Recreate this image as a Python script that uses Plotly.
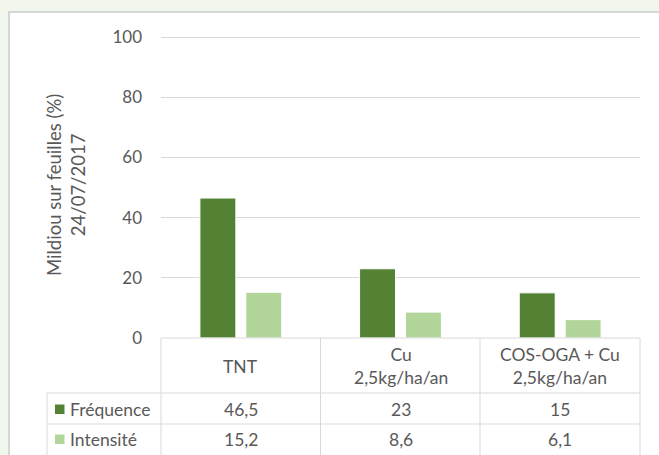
import plotly.graph_objects as go

categories = ["TNT", "Cu<br>2,5kg/ha/an", "COS-OGA + Cu<br>2,5kg/ha/an"]
series_names = ["Fréquence", "Intensité"]
frequence = [46.5, 23, 15]
intensite = [15.2, 8.6, 6.1]
y_ticks = [0, 20, 40, 60, 80, 100]
y_title = "Mildiou sur feuilles (%)<br>24/07/2017"

W, H = 659, 455
DARK = "#548235"
LIGHT = "#b2d69a"
TXT = "#595959"
GRID = "#d9d9d9"
FONT = "Lato, 'Open Sans', sans-serif"
FS = 17.5


def px(x):
    return x / W


def py(y):
    return 1 - y / H


fig = go.Figure()
for name, vals, col in [(series_names[0], frequence, DARK), (series_names[1], intensite, LIGHT)]:
    fig.add_trace(go.Bar(x=categories, y=vals, name=name,
                         marker=dict(color=col, line=dict(color="white", width=1)),
                         showlegend=False, hoverinfo="skip"))

# plot area in pixels (100 at y=37, 0 at y=338; range topped slightly above 100 so its gridline shows)
X0, X1 = 161, 640
Y_BOT = 338
YMAX = 101
Y_TOP = Y_BOT - (Y_BOT - 37) * YMAX / 100

shapes = []
# white panel
shapes.append(dict(type="rect", xref="paper", yref="paper", x0=px(9), x1=1.05, y0=-0.05, y1=py(12),
                   fillcolor="white", line=dict(color="#d6d6d6", width=2), layer="below"))
# table lines
line = dict(color=GRID, width=1)
shapes.append(dict(type="line", xref="paper", yref="paper", x0=px(X0), x1=px(X1), y0=py(Y_BOT), y1=py(Y_BOT), line=line))
for yy in [393, 424]:
    shapes.append(dict(type="line", xref="paper", yref="paper", x0=px(47), x1=px(X1), y0=py(yy), y1=py(yy), line=line))
for xx in [X0, 320.5, 480, X1]:
    shapes.append(dict(type="line", xref="paper", yref="paper", x0=px(xx), x1=px(xx), y0=py(Y_BOT), y1=-0.02, line=line))
shapes.append(dict(type="line", xref="paper", yref="paper", x0=px(47), x1=px(47), y0=py(393), y1=-0.02, line=line))
# legend keys
for yc, col in [(409, DARK), (439, LIGHT)]:
    shapes.append(dict(type="rect", xref="paper", yref="paper", x0=px(55), x1=px(64.5), y0=py(yc + 5), y1=py(yc - 4.5),
                       fillcolor=col, line=dict(width=0)))

annotations = []
# header labels
for c in categories:
    annotations.append(dict(x=c, xref="x", y=py(366), yref="paper", text=c, showarrow=False,
                            font=dict(family=FONT, size=FS, color=TXT), align="center", yanchor="middle"))
# row labels and values
for name, vals, yc in [(series_names[0], frequence, 409), (series_names[1], intensite, 439)]:
    annotations.append(dict(x=px(68), xref="paper", y=py(yc), yref="paper", text=name, showarrow=False,
                            xanchor="left", yanchor="middle", font=dict(family=FONT, size=FS, color=TXT)))
    for c, v in zip(categories, vals):
        annotations.append(dict(x=c, xref="x", y=py(yc), yref="paper", text=f"{v:g}".replace(".", ","),
                                showarrow=False, yanchor="middle", font=dict(family=FONT, size=FS, color=TXT)))
# y title
annotations.append(dict(x=px(66), xref="paper", y=py(185), yref="paper", text=y_title, textangle=-90,
                        showarrow=False, xanchor="center", yanchor="middle", align="center",
                        font=dict(family=FONT, size=18.5, color=TXT)))

fig.update_layout(
    width=W, height=H,
    margin=dict(l=0, r=0, t=0, b=0, autoexpand=False),
    paper_bgcolor="#f1f7ed",
    plot_bgcolor="white",
    barmode="group", bargap=0.425, bargroupgap=0.217,
    xaxis=dict(domain=[px(X0), px(X1)], showticklabels=False, showgrid=False, zeroline=False,
               showline=False, ticks="", automargin=False),
    yaxis=dict(domain=[py(Y_BOT), py(Y_TOP)], range=[0, YMAX], tickvals=y_ticks, showgrid=True,
               gridcolor=GRID, gridwidth=1, zeroline=False, showline=False, ticks="", automargin=False,
               ticklabelstandoff=18, tickfont=dict(family=FONT, size=17, color=TXT)),
    shapes=shapes, annotations=annotations,
)

fig.write_html("out.html", config={"displayModeBar": False})
with open("out.html", encoding="utf-8") as f:
    html = f.read()
html = html.replace("<head>", "<head><style>html,body{margin:0;padding:0;overflow:hidden}</style>", 1)
with open("out.html", "w", encoding="utf-8") as f:
    f.write(html)
